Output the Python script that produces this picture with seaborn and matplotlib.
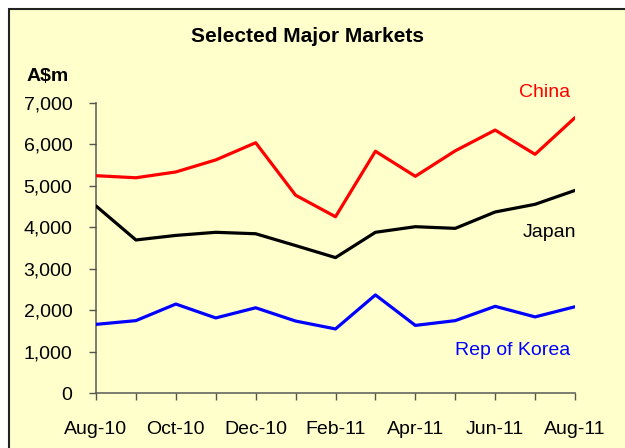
import pandas as pd
import numpy as np
import matplotlib
matplotlib.use("Agg")
import matplotlib.pyplot as plt
from matplotlib.patches import Rectangle
import seaborn as sns

# Datos (A$m)
months = ['Aug-10', 'Sep-10', 'Oct-10', 'Nov-10', 'Dec-10', 'Jan-11', 'Feb-11',
          'Mar-11', 'Apr-11', 'May-11', 'Jun-11', 'Jul-11', 'Aug-11']
china = [5240, 5190, 5330, 5620, 6035, 4770, 4250, 5830, 5225, 5840, 6340, 5755, 6640]
japan = [4510, 3690, 3800, 3875, 3840, 3555, 3265, 3875, 4010, 3970, 4365, 4550, 4885]
korea = [1655, 1745, 2145, 1810, 2055, 1735, 1545, 2365, 1630, 1745, 2090, 1835, 2080]
series_names = ['China', 'Japan', 'Rep of Korea']
series_colors = ['#FF0000', '#000000', '#0000FF']

df = pd.DataFrame({'mes': months, 'China': china, 'Japan': japan, 'Rep of Korea': korea})
df['idx'] = np.arange(len(months))
long_df = df.melt(id_vars=['mes', 'idx'], value_vars=series_names,
                  var_name='serie', value_name='valor')

sns.set_style('white')
plt.rcParams['font.family'] = ['Liberation Sans', 'DejaVu Sans']
plt.rcParams['text.color'] = 'black'

fig = plt.figure(figsize=(6.25, 4.48), dpi=100, facecolor='white')
# fondo amarillo con marco (debajo de todo)
fig.patches.append(Rectangle((9/625, -0.1), 1.2, 1 - 9/448 + 0.1, transform=fig.transFigure,
                             facecolor='#FFFFCC', edgecolor='#222222', linewidth=1.5, zorder=-10))

ax = fig.add_axes([96/625, 1 - 393/448, (575 - 96)/625, (393 - 102.7)/448])
ax.set_facecolor('none')
sns.lineplot(data=long_df, x='idx', y='valor', hue='serie', palette=series_colors,
             hue_order=series_names, linewidth=2.3, legend=False, ax=ax)

ax.set_xlim(0, 12)
ax.set_ylim(0, 7000)
ax.set_xticks(np.arange(len(months)))
ax.set_xticklabels([m if i % 2 == 0 else '' for i, m in enumerate(months)])
ax.set_yticks(np.arange(0, 7001, 1000))
ax.set_yticklabels([f'{v:,}' for v in range(0, 7001, 1000)])
ax.set_xlabel('')
ax.set_ylabel('')
for s in ['top', 'right']:
    ax.spines[s].set_visible(False)
for s in ['left', 'bottom']:
    ax.spines[s].set_color('#666660')
    ax.spines[s].set_linewidth(1.2)
    ax.spines[s].set_zorder(0.5)
ax.tick_params(axis='both', direction='out', length=5, width=1, color='#555550',
               labelsize=14, labelcolor='black', bottom=True, left=True)
ax.tick_params(axis='y', pad=12)
ax.tick_params(axis='x', pad=15)

# etiquetas de las series
ax.text(11.87, 7240, 'China', color='#FF0000', fontsize=14, ha='right', va='center', clip_on=False)
ax.text(12.02, 3866, 'Japan', color='#000000', fontsize=14, ha='right', va='center')
ax.text(11.89, 1013, 'Rep of Korea', color='#0000FF', fontsize=14, ha='right', va='center')

fig.text(307.5/625, 1 - 37/448, 'Selected Major Markets', fontsize=15, fontweight='bold',
         ha='center', va='center', color='black')
fig.text(27/625, 1 - 76/448, 'A$m', fontsize=14, fontweight='bold', ha='left', va='center',
         color='black')

fig.savefig('out.png', dpi=100, facecolor='white')
